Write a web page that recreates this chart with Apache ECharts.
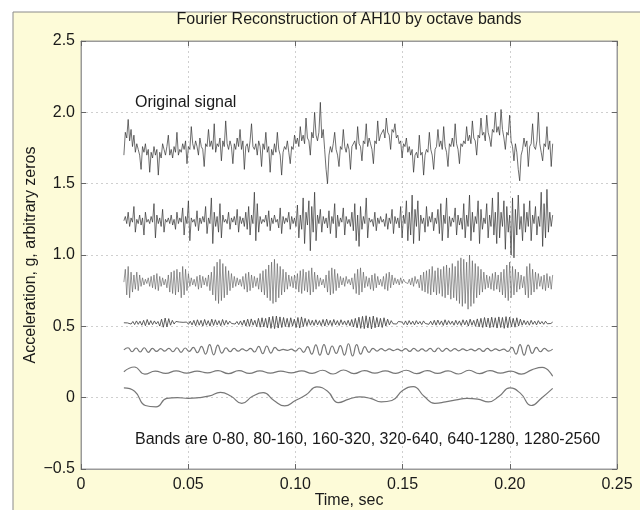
<!DOCTYPE html>
<html>
<head>
<meta charset="utf-8">
<script src="https://cdn.jsdelivr.net/npm/echarts@6/dist/echarts.min.js"></script>
<style>
html,body{margin:0;padding:0;background:#ffffff;}
#c{width:640px;height:510px;}
</style>
</head>
<body>
<div id="c"></div>
<script>
// ---------- DATA ----------
const T_START = 0.02, T_END = 0.22;
const X_TICKS = [0, 0.05, 0.10, 0.15, 0.20, 0.25];
const X_TICK_LABELS = ['0', '0.05', '0.10', '0.15', '0.20', '0.25'];
const Y_TICKS = [-0.5, 0, 0.5, 1.0, 1.5, 2.0, 2.5];
const Y_TICK_LABELS = ['\u22120.5', '0', '0.5', '1.0', '1.5', '2.0', '2.5'];

// Original signal (offset ~1.77)
const ORIGINAL = [
1.70,1.86,1.82,1.95,1.80,1.88,1.76,1.84,1.72,1.78,1.74,1.70,1.60,1.76,1.72,1.78,1.70,1.74,1.58,1.72,
1.68,1.76,1.70,1.74,1.56,1.72,1.68,1.78,1.74,1.70,1.76,1.84,1.70,1.74,1.68,1.76,1.72,1.86,1.70,1.74,
1.72,1.78,1.74,1.80,1.64,1.76,1.74,1.90,1.78,1.74,1.80,1.76,1.70,1.82,1.76,1.74,1.62,1.78,1.76,1.88,
1.76,1.80,1.74,1.92,1.72,1.78,1.76,1.82,1.66,1.80,1.76,1.94,1.78,1.74,1.80,1.76,1.64,1.78,1.74,1.82,
1.76,1.88,1.74,1.80,1.60,1.76,1.78,1.72,1.80,1.92,1.76,1.74,1.78,1.70,1.80,1.76,1.62,1.78,1.74,1.86,
1.72,1.76,1.58,1.74,1.70,1.78,1.72,1.86,1.74,1.70,1.56,1.72,1.76,1.74,1.80,1.72,1.64,1.76,1.74,1.84,
1.78,1.82,1.76,1.90,1.80,1.84,1.78,1.96,1.82,1.80,1.70,1.86,1.82,2.00,1.84,1.80,1.86,2.07,1.82,1.88,
1.74,1.60,1.50,1.70,1.76,1.72,1.78,1.86,1.74,1.70,1.62,1.76,1.74,1.88,1.76,1.72,1.78,1.74,1.60,1.76,
1.76,1.80,1.74,1.90,1.78,1.76,1.66,1.80,1.78,1.92,1.76,1.82,1.78,1.74,1.64,1.80,1.78,1.94,1.80,1.84,
1.84,1.88,1.82,1.96,1.86,1.84,1.74,1.88,1.86,1.92,1.82,1.84,1.78,1.80,1.68,1.78,1.76,1.82,1.72,1.76,
1.70,1.74,1.58,1.70,1.72,1.68,1.84,1.70,1.72,1.56,1.70,1.74,1.72,1.86,1.74,1.70,1.60,1.74,1.76,1.88,
1.76,1.80,1.74,1.90,1.76,1.72,1.62,1.78,1.76,1.82,1.76,1.92,1.78,1.74,1.64,1.78,1.76,1.80,1.78,1.90,
1.80,1.84,1.78,1.94,1.82,1.80,1.70,1.84,1.82,1.96,1.84,1.86,1.80,1.98,1.86,1.82,1.76,1.88,1.86,2.00,
1.86,1.90,1.84,2.02,1.88,1.82,1.74,1.86,1.84,1.98,1.80,1.76,1.66,1.78,1.72,1.60,1.52,1.70,1.74,1.82,
1.76,1.80,1.62,1.76,1.78,1.92,1.76,1.74,1.80,2.00,1.78,1.72,1.66,1.78,1.76,1.90,1.74,1.80,1.62,1.78
];

// Band 1280-2560 Hz (offset ~1.24)
const BAND_1280_2560 = [
1.24,1.27,1.22,1.30,1.20,1.26,1.23,1.34,1.16,1.25,1.22,1.28,1.21,1.26,1.14,1.30,1.23,1.25,1.22,1.27,
1.23,1.36,1.12,1.28,1.22,1.26,1.20,1.32,1.16,1.25,1.23,1.26,1.22,1.28,1.21,1.25,1.18,1.30,1.22,1.26,
1.23,1.33,1.14,1.27,1.22,1.38,1.10,1.26,1.23,1.25,1.20,1.31,1.17,1.26,1.22,1.27,1.23,1.34,1.15,1.26,
1.22,1.40,1.08,1.30,1.20,1.27,1.16,1.36,1.12,1.28,1.23,1.25,1.22,1.30,1.18,1.26,1.23,1.27,1.21,1.32,
1.16,1.27,1.22,1.26,1.20,1.30,1.18,1.34,1.14,1.28,1.22,1.44,1.10,1.36,1.16,1.27,1.22,1.25,1.23,1.28,
1.20,1.31,1.17,1.26,1.22,1.28,1.23,1.25,1.19,1.33,1.15,1.27,1.22,1.26,1.23,1.30,1.18,1.27,1.22,1.26,
1.20,1.35,1.12,1.28,1.18,1.40,1.08,1.30,1.21,1.38,1.03,1.34,1.16,1.44,1.10,1.28,1.22,1.32,1.16,1.27,
1.22,1.26,1.19,1.31,1.15,1.27,1.22,1.36,1.12,1.28,1.20,1.26,1.23,1.33,1.14,1.27,1.22,1.25,1.20,1.30,
1.17,1.36,1.10,1.28,1.06,1.34,1.18,1.27,1.22,1.40,1.12,1.26,1.23,1.25,1.20,1.30,1.17,1.26,1.22,1.27,
1.23,1.25,1.20,1.29,1.18,1.26,1.22,1.32,1.15,1.27,1.22,1.26,1.19,1.34,1.12,1.28,1.22,1.38,1.10,1.30,
1.14,1.42,1.08,1.32,1.20,1.38,1.10,1.28,1.22,1.26,1.16,1.34,1.20,1.27,1.23,1.30,1.17,1.26,1.22,1.32,
1.15,1.36,1.10,1.28,1.22,1.40,1.12,1.27,1.20,1.26,1.23,1.33,1.14,1.28,1.21,1.26,1.18,1.36,1.12,1.28,
1.20,1.42,1.10,1.30,1.16,1.27,1.22,1.38,1.08,1.32,1.18,1.26,1.22,1.36,1.12,1.28,1.20,1.40,1.14,1.30,
1.08,1.44,1.12,1.30,1.20,1.38,1.04,1.34,1.16,1.28,1.00,1.40,0.98,1.32,1.14,1.42,1.18,1.27,1.10,1.36,
1.16,1.30,1.20,1.38,1.10,1.28,1.22,1.34,1.14,1.27,1.20,1.44,1.06,1.36,1.12,1.46,1.16,1.30,1.20,1.28
];

// Band 640-1280 Hz (offset ~0.815)
const BAND_640_1280 = [
0.81,0.90,0.72,0.92,0.70,0.88,0.74,0.86,0.76,0.88,0.75,0.86,0.78,0.84,0.79,0.83,0.80,0.84,0.78,0.85,
0.77,0.86,0.76,0.87,0.75,0.85,0.78,0.84,0.79,0.83,0.77,0.86,0.74,0.88,0.73,0.89,0.72,0.90,0.74,0.88,
0.70,0.92,0.72,0.90,0.75,0.87,0.78,0.84,0.79,0.83,0.78,0.85,0.76,0.86,0.77,0.85,0.79,0.84,0.78,0.86,
0.75,0.88,0.72,0.92,0.68,0.95,0.66,0.97,0.68,0.94,0.70,0.92,0.72,0.89,0.75,0.87,0.77,0.85,0.78,0.84,
0.79,0.83,0.78,0.85,0.76,0.87,0.74,0.88,0.75,0.86,0.77,0.85,0.78,0.84,0.76,0.87,0.74,0.89,0.72,0.90,
0.70,0.93,0.68,0.95,0.66,0.97,0.67,0.94,0.70,0.92,0.72,0.90,0.74,0.88,0.76,0.86,0.78,0.85,0.77,0.86,
0.76,0.87,0.74,0.89,0.73,0.90,0.75,0.88,0.74,0.89,0.72,0.91,0.74,0.88,0.76,0.86,0.78,0.84,0.79,0.83,
0.77,0.86,0.74,0.89,0.72,0.91,0.73,0.90,0.75,0.87,0.77,0.85,0.79,0.84,0.78,0.85,0.80,0.83,0.79,0.84,
0.76,0.87,0.73,0.90,0.72,0.91,0.74,0.88,0.77,0.85,0.78,0.84,0.76,0.86,0.75,0.87,0.77,0.85,0.79,0.83,
0.78,0.85,0.76,0.87,0.75,0.88,0.77,0.86,0.79,0.84,0.80,0.83,0.79,0.84,0.80,0.83,0.81,0.82,0.80,0.83,
0.79,0.84,0.78,0.85,0.80,0.83,0.77,0.86,0.75,0.88,0.74,0.89,0.73,0.90,0.72,0.92,0.74,0.89,0.72,0.91,
0.73,0.90,0.71,0.92,0.70,0.93,0.72,0.91,0.69,0.94,0.70,0.92,0.68,0.96,0.66,0.98,0.64,0.97,0.66,0.95,
0.62,1.00,0.64,0.96,0.66,0.94,0.70,0.92,0.72,0.90,0.74,0.88,0.76,0.86,0.77,0.85,0.76,0.87,0.75,0.88,
0.76,0.86,0.74,0.88,0.72,0.90,0.70,0.93,0.68,0.95,0.70,0.92,0.72,0.90,0.74,0.88,0.76,0.86,0.77,0.85,
0.72,0.92,0.70,0.94,0.72,0.90,0.74,0.88,0.76,0.87,0.78,0.85,0.76,0.86,0.75,0.87,0.77,0.85,0.76,0.86
];

// Band 320-640 Hz (offset ~0.525)
const BAND_320_640 = [
0.525,0.525,0.524,0.526,0.516,0.534,0.512,0.538,0.514,0.536,0.508,0.542,0.504,0.548,0.510,0.540,
0.512,0.538,0.516,0.534,0.502,0.550,0.494,0.558,0.496,0.554,0.508,0.542,0.516,0.534,0.520,0.530,
0.522,0.528,0.520,0.530,0.514,0.536,0.510,0.542,0.504,0.546,0.508,0.542,0.502,0.548,0.508,0.540,
0.502,0.550,0.506,0.546,0.510,0.540,0.504,0.548,0.508,0.542,0.514,0.536,0.520,0.530,0.516,0.534,
0.512,0.538,0.508,0.544,0.502,0.550,0.500,0.552,0.508,0.542,0.498,0.556,0.494,0.560,0.496,0.556,
0.490,0.565,0.486,0.570,0.484,0.572,0.488,0.566,0.492,0.562,0.498,0.556,0.494,0.560,0.502,0.550,
0.492,0.562,0.488,0.566,0.498,0.556,0.504,0.548,0.508,0.542,0.506,0.546,0.510,0.540,0.504,0.548,
0.502,0.550,0.508,0.542,0.504,0.548,0.510,0.540,0.506,0.546,0.512,0.538,0.508,0.542,0.504,0.548,
0.496,0.556,0.490,0.564,0.486,0.570,0.484,0.574,0.488,0.566,0.482,0.572,0.490,0.562,0.496,0.556,
0.492,0.560,0.502,0.550,0.510,0.540,0.518,0.532,0.516,0.534,0.520,0.530,0.512,0.538,0.510,0.540,
0.514,0.536,0.510,0.540,0.516,0.534,0.512,0.538,0.520,0.530,0.514,0.536,0.510,0.542,0.508,0.544,
0.512,0.538,0.506,0.546,0.510,0.540,0.514,0.536,0.508,0.542,0.512,0.538,0.506,0.546,0.510,0.542,
0.502,0.550,0.508,0.542,0.500,0.552,0.496,0.556,0.492,0.562,0.496,0.558,0.490,0.564,0.494,0.560,
0.488,0.566,0.492,0.562,0.486,0.568,0.490,0.564,0.498,0.556,0.494,0.560,0.502,0.550,0.508,0.542,
0.512,0.538,0.508,0.542,0.514,0.536,0.510,0.540,0.516,0.534,0.514,0.536,0.518,0.532,0.520,0.530
];

// Band 160-320 Hz (offset ~0.335), peaks and troughs
const BAND_160_320 = [
0.335,0.350,0.322,0.348,0.320,0.350,0.318,0.346,0.324,0.344,0.326,
0.346,0.322,0.350,0.318,0.348,0.324,0.352,0.315,0.360,0.305,
0.372,0.300,0.368,0.312,0.350,0.322,0.345,0.326,0.342,0.328,0.345,
0.320,0.360,0.308,0.362,0.312,0.352,0.330,0.338,0.332,0.340,
0.326,0.348,0.318,0.358,0.305,0.370,0.298,0.372,0.302,0.362,0.310,
0.365,0.298,0.378,0.292,0.372,0.305,0.358,0.318,0.346,0.326,
0.344,0.328,0.342,0.330,0.340,0.328,0.344,0.324,0.346,0.326,0.342,
0.326,0.346,0.322,0.348,0.324,0.346,0.326,0.344,0.328,0.342,
0.330,0.340,0.328,0.344,0.324,0.346,0.328,0.342,0.330,0.340,0.324,
0.352,0.305,0.372,0.298,0.368,0.310,0.352,0.322,0.346,0.326,0.340
];

// Band 80-160 Hz (offset ~0.18)
const BAND_80_160 = [
0.182,0.215,0.165,0.186,0.170,0.188,0.172,0.186,0.174,0.190,0.168,0.190,0.170,0.188,
0.172,0.186,0.174,0.188,0.170,0.192,0.166,0.194,0.168,0.190,0.172,0.188,0.170,0.192,
0.168,0.190,0.170,0.188,0.166,0.192,0.168,0.190,0.172,0.186,0.165,0.195,0.212,0.150
];

// Band 0-80 Hz (offset 0), every 5 ms
const BAND_0_80 = [
0.068,0.045,-0.055,-0.065,-0.005,0.000,-0.005,0.000,0.012,0.037,0.010,
-0.040,0.010,0.035,-0.020,-0.058,-0.020,0.020,0.075,0.045,-0.035,
-0.010,0.005,-0.005,-0.030,-0.020,0.050,0.078,0.010,-0.040,-0.030,
-0.015,-0.005,-0.010,-0.030,0.010,0.068,0.030,-0.055,0.000,0.065
];

// ---------- CHART ----------
const FONT = "'Liberation Sans', Arial, Helvetica, sans-serif";
function toXY(arr) {
  const n = arr.length;
  return arr.map((v, i) => [T_START + i * (T_END - T_START) / (n - 1), v]);
}
function fmtX(v) {
  const i = X_TICKS.findIndex(t => Math.abs(t - v) < 1e-9);
  return i >= 0 ? X_TICK_LABELS[i] : '';
}
function fmtY(v) {
  const i = Y_TICKS.findIndex(t => Math.abs(t - v) < 1e-9);
  return i >= 0 ? Y_TICK_LABELS[i] : '';
}

const chart = echarts.init(document.getElementById('c'), null, {renderer: 'canvas'});
const dense = {type: 'line', showSymbol: false, symbol: 'none', animation: false, sampling: null,
  lineStyle: {color: '#303030', width: 0.7}, silent: true};
const smoothS = {type: 'line', showSymbol: false, symbol: 'none', animation: false, smooth: 0.5,
  lineStyle: {color: '#777777', width: 1.2}, silent: true};

const axisCommonX = {
  type: 'value', min: 0, max: 0.25, interval: 0.05,
  axisLine: {show: true, onZero: false, lineStyle: {color: '#9a9a9a', width: 1}},
  axisTick: {show: true, inside: true, length: 5, lineStyle: {color: '#666'}},
  splitLine: {show: false}
};
const axisCommonY = {
  type: 'value', min: -0.5, max: 2.5, interval: 0.5,
  axisLine: {show: true, onZero: false, lineStyle: {color: '#9a9a9a', width: 1}},
  axisTick: {show: true, inside: true, length: 5, lineStyle: {color: '#666'}},
  splitLine: {show: false}
};

chart.setOption({
  backgroundColor: '#ffffff',
  animation: false,
  grid: {left: 81, right: 23, top: 41, bottom: 41, show: true, backgroundColor: '#ffffff',
         borderColor: '#9a9a9a', borderWidth: 1, containLabel: false},
  xAxis: [
    Object.assign({}, axisCommonX, {
      position: 'bottom',
      axisLabel: {show: true, formatter: fmtX, margin: 8, fontFamily: FONT, fontSize: 16, color: '#1a1a1a'},
      splitLine: {show: true, lineStyle: {color: '#cfcfcf', type: [2, 3], width: 1}}
    }),
    Object.assign({}, axisCommonX, {position: 'top', axisLabel: {show: false}})
  ],
  yAxis: [
    Object.assign({}, axisCommonY, {
      position: 'left',
      axisLabel: {show: true, formatter: fmtY, margin: 6, fontFamily: FONT, fontSize: 16, color: '#1a1a1a'},
      splitLine: {show: true, lineStyle: {color: '#cfcfcf', type: [2, 3], width: 1}}
    }),
    Object.assign({}, axisCommonY, {position: 'right', axisLabel: {show: false}})
  ],
  graphic: [
    {type: 'rect', z: -10, silent: true, shape: {x: 13, y: 12, width: 700, height: 600},
     style: {fill: '#fdfbd8', stroke: '#8a8a8a', lineWidth: 1}},
    {type: 'text', z: 10, x: 349, y: 20, silent: true,
     style: {text: 'Fourier Reconstruction of AH10 by octave bands', font: "16px " + FONT, fill: '#1a1a1a',
             textAlign: 'center', textVerticalAlign: 'middle'}},
    {type: 'text', z: 10, x: 349, y: 501, silent: true,
     style: {text: 'Time, sec', font: "16px " + FONT, fill: '#1a1a1a',
             textAlign: 'center', textVerticalAlign: 'middle'}},
    {type: 'text', z: 10, x: 31, y: 255, rotation: Math.PI / 2, silent: true,
     style: {text: 'Acceleration, g, arbitrary zeros', font: "16px " + FONT, fill: '#1a1a1a',
             textAlign: 'center', textVerticalAlign: 'middle'}},
    {type: 'text', z: 10, x: 135, y: 103, silent: true,
     style: {text: 'Original signal', font: "16px " + FONT, fill: '#1a1a1a', textVerticalAlign: 'middle'}},
    {type: 'text', z: 10, x: 135, y: 440, silent: true,
     style: {text: 'Bands are 0-80, 80-160, 160-320, 320-640, 640-1280, 1280-2560', font: "16px " + FONT, fill: '#1a1a1a',
             textVerticalAlign: 'middle'}}
  ],
  series: [
    Object.assign({}, dense, {name: 'Original', data: toXY(ORIGINAL)}),
    Object.assign({}, dense, {name: '1280-2560', data: toXY(BAND_1280_2560)}),
    Object.assign({}, dense, {name: '640-1280', data: toXY(BAND_640_1280), lineStyle: {color: '#555', width: 0.6}}),
    Object.assign({}, dense, {name: '320-640', data: toXY(BAND_320_640), lineStyle: {color: '#444', width: 0.85}}),
    Object.assign({}, smoothS, {name: '160-320', data: toXY(BAND_160_320)}),
    Object.assign({}, smoothS, {name: '80-160', data: toXY(BAND_80_160)}),
    Object.assign({}, smoothS, {name: '0-80', data: toXY(BAND_0_80)})
  ]
});
</script>
</body>
</html>
